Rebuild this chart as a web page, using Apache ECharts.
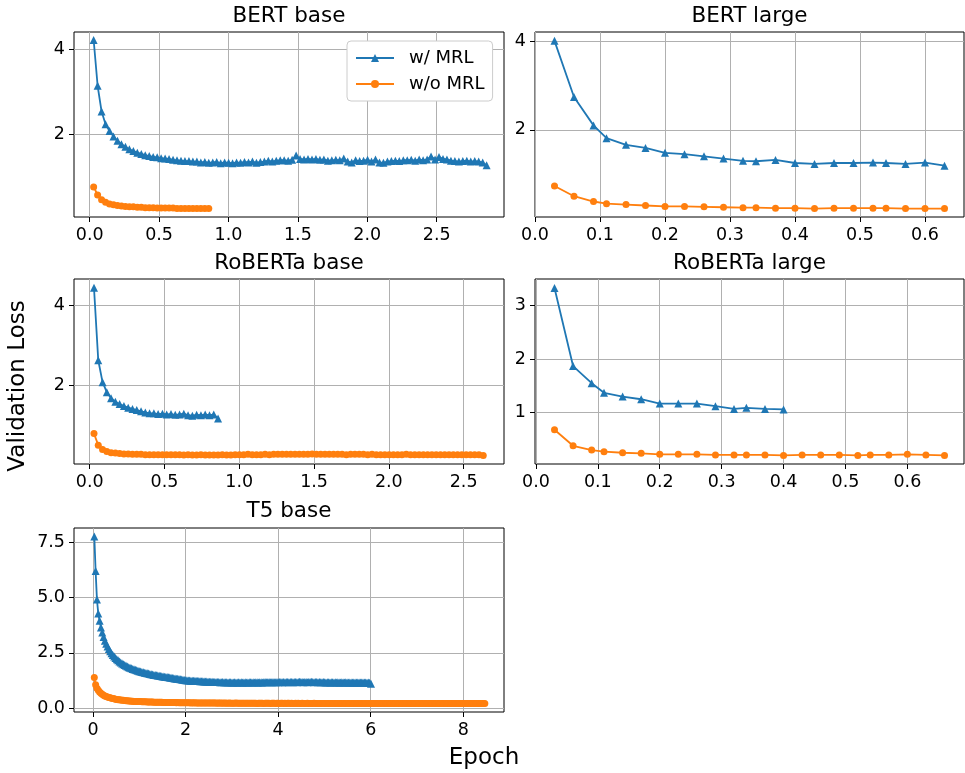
<!DOCTYPE html>
<html><head><meta charset="utf-8">
<script src="https://cdn.jsdelivr.net/npm/echarts@6.0.0/dist/echarts.min.js"></script>
<style>html,body{margin:0;padding:0;background:#fff}#chart{width:965px;height:773px}</style>
</head><body><div id="chart"></div>
<script>
// ---------------- DATA ----------------
const panelTitles = ['BERT base', 'BERT large', 'RoBERTa base', 'RoBERTa large', 'T5 base'];
const seriesNames = ['w/ MRL', 'w/o MRL'];
const xAxisLabel = 'Epoch';
const yAxisLabel = 'Validation Loss';
// evaluation interval (epochs between evaluations) for the densely logged runs
const evalStep = 0.0286;

// BERT base
const bertBaseWith = [
4.22,3.14,2.53,2.23,2.07,1.94,1.84,1.76,1.70,1.64,
1.60,1.56,1.53,1.50,1.48,1.46,1.45,1.43,1.42,1.41,
1.39,1.38,1.37,1.36,1.36,1.35,1.35,1.33,1.34,1.32,
1.33,1.34,1.31,1.33,1.32,1.31,1.33,1.32,1.34,1.33,
1.35,1.32,1.34,1.35,1.37,1.35,1.37,1.38,1.38,1.37,
1.39,1.49,1.41,1.40,1.41,1.40,1.41,1.39,1.40,1.37,
1.38,1.39,1.38,1.42,1.35,1.33,1.38,1.36,1.37,1.39,
1.35,1.40,1.33,1.32,1.35,1.36,1.37,1.36,1.38,1.38,
1.39,1.37,1.40,1.38,1.40,1.47,1.40,1.46,1.41,1.40,
1.37,1.36,1.35,1.36,1.37,1.35,1.36,1.35,1.33,1.26];
const bertBaseWithout = [
0.75,0.56,0.45,0.39,0.35,0.33,0.31,0.30,0.29,0.28,
0.28,0.27,0.27,0.26,0.26,0.26,0.25,0.25,0.25,0.25,
0.25,0.24,0.24,0.24,0.24,0.24,0.24,0.24,0.24,0.24];

// BERT large
const bertLargeEpochs = [0.03,0.06,0.09,0.11,0.14,0.17,0.20,0.23,0.26,0.29,0.32,0.34,0.37,0.40,0.43,0.46,0.49,0.52,0.54,0.57,0.60,0.63];
const bertLargeWith = [4.01,2.74,2.10,1.81,1.66,1.59,1.48,1.45,1.40,1.35,1.30,1.29,1.32,1.25,1.23,1.25,1.25,1.26,1.25,1.23,1.26,1.19];
const bertLargeWithout = [0.73,0.50,0.38,0.33,0.31,0.29,0.27,0.27,0.26,0.25,0.24,0.24,0.23,0.23,0.22,0.23,0.23,0.23,0.23,0.22,0.22,0.22];

// RoBERTa base
const robertaBaseWith = [
4.44,2.62,2.07,1.82,1.67,1.58,1.52,1.47,1.43,1.40,
1.37,1.34,1.31,1.29,1.29,1.27,1.28,1.26,1.27,1.25,
1.26,1.28,1.24,1.23,1.25,1.24,1.26,1.24,1.26,1.16];
const robertaBaseWithout = [
0.78,0.49,0.38,0.33,0.30,0.29,0.28,0.27,0.27,0.26,
0.26,0.26,0.25,0.25,0.25,0.25,0.25,0.25,0.25,0.25,
0.25,0.24,0.25,0.24,0.24,0.25,0.24,0.24,0.24,0.24,
0.25,0.24,0.24,0.25,0.25,0.25,0.26,0.25,0.25,0.25,
0.26,0.25,0.26,0.26,0.26,0.26,0.26,0.26,0.26,0.26,
0.26,0.27,0.26,0.26,0.26,0.26,0.26,0.26,0.26,0.25,
0.26,0.26,0.26,0.26,0.25,0.26,0.25,0.25,0.25,0.25,
0.25,0.25,0.25,0.26,0.25,0.25,0.25,0.25,0.25,0.25,
0.25,0.25,0.25,0.25,0.25,0.25,0.25,0.25,0.25,0.25,
0.25,0.23];

// RoBERTa large
const robertaLargeEpochs = [0.03,0.06,0.09,0.11,0.14,0.17,0.20,0.23,0.26,0.29,0.32,0.34,0.37,0.40,0.43,0.46,0.49,0.52,0.54,0.57,0.60,0.63,0.66];
const robertaLargeWith = [3.33,1.87,1.55,1.37,1.30,1.25,1.17,1.17,1.17,1.12,1.07,1.09,1.07,1.06];
const robertaLargeWithout = [0.68,0.38,0.30,0.27,0.25,0.24,0.22,0.22,0.22,0.21,0.21,0.21,0.21,0.20,0.21,0.21,0.21,0.20,0.21,0.21,0.22,0.21,0.20];

// T5 base
const t5BaseWith = [
7.77,6.20,4.91,4.28,3.95,3.65,3.42,3.22,3.05,2.91,
2.78,2.67,2.57,2.48,2.40,2.33,2.27,2.21,2.16,2.11,
2.06,2.02,1.98,1.95,1.91,1.88,1.85,1.82,1.80,1.77,
1.75,1.73,1.71,1.69,1.67,1.65,1.63,1.62,1.60,1.58,
1.57,1.56,1.54,1.53,1.52,1.50,1.49,1.48,1.47,1.46,
1.45,1.44,1.43,1.42,1.41,1.40,1.39,1.38,1.37,1.36,
1.35,1.34,1.33,1.32,1.31,1.30,1.29,1.28,1.27,1.26,
1.26,1.25,1.25,1.24,1.24,1.23,1.23,1.22,1.22,1.22,
1.21,1.21,1.21,1.20,1.20,1.20,1.19,1.19,1.19,1.19,
1.18,1.18,1.18,1.18,1.18,1.17,1.17,1.18,1.17,1.17,
1.17,1.16,1.17,1.17,1.16,1.16,1.17,1.16,1.16,1.17,
1.16,1.17,1.16,1.16,1.17,1.16,1.16,1.17,1.17,1.16,
1.17,1.16,1.17,1.17,1.16,1.17,1.17,1.16,1.17,1.18,
1.17,1.17,1.18,1.17,1.17,1.18,1.17,1.17,1.18,1.17,
1.18,1.18,1.17,1.18,1.17,1.18,1.18,1.17,1.18,1.18,
1.17,1.18,1.18,1.17,1.18,1.19,1.18,1.18,1.17,1.18,
1.18,1.17,1.18,1.18,1.19,1.18,1.17,1.18,1.18,1.17,
1.18,1.17,1.17,1.18,1.17,1.16,1.17,1.17,1.16,1.17,
1.17,1.16,1.17,1.16,1.17,1.16,1.16,1.17,1.16,1.16,
1.17,1.16,1.16,1.15,1.16,1.16,1.15,1.16,1.15,1.16,
1.15,1.16,1.15,1.15,1.16,1.15,1.14,1.15,1.14,1.10];
const t5BaseWithout = [
1.38,1.05,0.90,0.80,0.73,0.67,0.62,0.58,0.55,0.52,0.50,0.48,0.46,0.44,0.43,0.42,0.40,0.39,0.38,0.37,
0.36,0.35,0.35,0.34,0.33,0.33,0.32,0.32,0.31,0.31,0.30,0.30,0.30,0.29,0.29,0.29,0.28,0.28,0.28,0.28,
0.27,0.27,0.27,0.27,0.27,0.26,0.26,0.26,0.26,0.26,0.26,0.26,0.25,0.25,0.25,0.25,0.25,0.25,0.25,0.25,
0.25,0.25,0.24,0.25,0.24,0.24,0.24,0.24,0.24,0.24,0.24,0.24,0.24,0.23,0.24,0.23,0.24,0.23,0.23,0.23,
0.23,0.23,0.23,0.23,0.23,0.23,0.23,0.23,0.23,0.23,0.23,0.23,0.23,0.22,0.23,0.23,0.22,0.23,0.22,0.23,
0.22,0.22,0.23,0.22,0.22,0.22,0.22,0.23,0.22,0.22,0.22,0.22,0.22,0.22,0.22,0.22,0.22,0.22,0.22,0.22,
0.22,0.22,0.22,0.21,0.22,0.22,0.22,0.22,0.21,0.22,0.22,0.22,0.22,0.21,0.22,0.22,0.22,0.21,0.22,0.22,
0.21,0.22,0.22,0.21,0.22,0.21,0.22,0.22,0.21,0.22,0.21,0.21,0.22,0.21,0.22,0.21,0.21,0.22,0.21,0.21,
0.21,0.22,0.21,0.21,0.21,0.21,0.22,0.21,0.21,0.21,0.21,0.21,0.21,0.21,0.21,0.21,0.21,0.21,0.21,0.21,
0.21,0.21,0.21,0.21,0.21,0.21,0.21,0.21,0.21,0.21,0.21,0.21,0.21,0.21,0.21,0.21,0.21,0.21,0.21,0.21,
0.21,0.21,0.21,0.20,0.21,0.21,0.21,0.21,0.21,0.20,0.21,0.21,0.21,0.21,0.20,0.21,0.21,0.21,0.20,0.21,
0.21,0.21,0.20,0.21,0.21,0.20,0.21,0.21,0.21,0.20,0.21,0.20,0.21,0.21,0.20,0.21,0.20,0.21,0.20,0.21,
0.20,0.21,0.20,0.21,0.20,0.20,0.21,0.20,0.21,0.20,0.20,0.21,0.20,0.20,0.21,0.20,0.20,0.20,0.21,0.20,
0.20,0.20,0.20,0.21,0.20,0.20,0.20,0.20,0.20,0.21,0.20,0.20,0.20,0.20,0.20,0.20,0.20,0.20,0.20,0.20,
0.20,0.20,0.20,0.20,0.20,0.20,0.20,0.20,0.20,0.20,0.20,0.20,0.20,0.20,0.20,0.20];

// axis extents and tick labels
const bertBaseXRange = [-0.113, 2.985], bertBaseYRange = [0.04, 4.41];
const bertLargeXRange = [0.0, 0.66], bertLargeYRange = [0.03, 4.21];
const robertaBaseXRange = [-0.105, 2.77], robertaBaseYRange = [0.017, 4.66];
const robertaLargeXRange = [-0.0015, 0.6915], robertaLargeYRange = [0.04, 3.497];
const t5BaseXRange = [-0.41, 8.88], t5BaseYRange = [-0.18, 8.15];

const bertBaseXTicks = [0.0, 0.5, 1.0, 1.5, 2.0, 2.5], bertBaseYTicks = [2, 4];
const bertLargeXTicks = [0.0, 0.1, 0.2, 0.3, 0.4, 0.5, 0.6], bertLargeYTicks = [2, 4];
const robertaBaseXTicks = [0.0, 0.5, 1.0, 1.5, 2.0, 2.5], robertaBaseYTicks = [2, 4];
const robertaLargeXTicks = [0.0, 0.1, 0.2, 0.3, 0.4, 0.5, 0.6], robertaLargeYTicks = [1, 2, 3];
const t5BaseXTicks = [0, 2, 4, 6, 8], t5BaseYTicks = [0.0, 2.5, 5.0, 7.5];

// ---------------- BUILD ----------------
function stepEpochs(n) { const a = []; for (let i = 1; i <= n; i++) a.push(+(i * evalStep).toFixed(4)); return a; }
function pairs(xs, ys) { return ys.map((y, i) => [xs[i], y]); }

const panels = [
  { title: panelTitles[0], xw: stepEpochs(bertBaseWith.length), yw: bertBaseWith, xo: stepEpochs(bertBaseWithout.length), yo: bertBaseWithout,
    xr: bertBaseXRange, yr: bertBaseYRange, xt: bertBaseXTicks, yt: bertBaseYTicks, xd: 1, yd: 0 },
  { title: panelTitles[1], xw: bertLargeEpochs, yw: bertLargeWith, xo: bertLargeEpochs, yo: bertLargeWithout,
    xr: bertLargeXRange, yr: bertLargeYRange, xt: bertLargeXTicks, yt: bertLargeYTicks, xd: 1, yd: 0 },
  { title: panelTitles[2], xw: stepEpochs(robertaBaseWith.length), yw: robertaBaseWith, xo: stepEpochs(robertaBaseWithout.length), yo: robertaBaseWithout,
    xr: robertaBaseXRange, yr: robertaBaseYRange, xt: robertaBaseXTicks, yt: robertaBaseYTicks, xd: 1, yd: 0 },
  { title: panelTitles[3], xw: robertaLargeEpochs, yw: robertaLargeWith, xo: robertaLargeEpochs, yo: robertaLargeWithout,
    xr: robertaLargeXRange, yr: robertaLargeYRange, xt: robertaLargeXTicks, yt: robertaLargeYTicks, xd: 1, yd: 0 },
  { title: panelTitles[4], xw: stepEpochs(t5BaseWith.length), yw: t5BaseWith, xo: stepEpochs(t5BaseWithout.length), yo: t5BaseWithout,
    xr: t5BaseXRange, yr: t5BaseYRange, xt: t5BaseXTicks, yt: t5BaseYTicks, xd: 0, yd: 1 }
];

const FONT = 'DejaVu Sans';
const BLUE = '#1f77b4', ORANGE = '#ff7f0e';
const layout = [
  { left: 74, top: 32, width: 430, height: 185, titleTop: 5 },
  { left: 535, top: 32, width: 429, height: 185, titleTop: 5 },
  { left: 74, top: 279, width: 430, height: 185, titleTop: 252 },
  { left: 535, top: 279, width: 429, height: 185, titleTop: 252 },
  { left: 74, top: 528, width: 430, height: 184, titleTop: 500 }
];

const grids = [], xAxes = [], yAxes = [], series = [], titles = [];
panels.forEach((p, i) => {
  const L = layout[i];
  grids.push({ left: L.left, top: L.top, width: L.width, height: L.height, show: true,
    borderColor: '#000', borderWidth: 1, backgroundColor: 'transparent', containLabel: false, outerBoundsMode: 'none' });
  const tickCommon = {
    axisLine: { show: false, onZero: false },
    axisTick: { show: true, inside: false, length: 5, lineStyle: { color: '#000', width: 1 } },
    splitLine: { show: true, lineStyle: { color: '#b0b0b0', width: 1 } }
  };
  xAxes.push(Object.assign({ type: 'value', gridIndex: i, min: p.xr[0], max: p.xr[1] }, tickCommon, {
    axisTick: Object.assign({}, tickCommon.axisTick, { customValues: p.xt }),
    axisLabel: { customValues: p.xt, margin: 9, color: '#000', fontFamily: FONT, fontSize: 17.5,
      formatter: v => Number(v).toFixed(p.xd) }
  }));
  yAxes.push(Object.assign({ type: 'value', gridIndex: i, min: p.yr[0], max: p.yr[1] }, tickCommon, {
    axisTick: Object.assign({}, tickCommon.axisTick, { customValues: p.yt }),
    axisLabel: { customValues: p.yt, margin: 9, color: '#000', fontFamily: FONT, fontSize: 17.5,
      formatter: v => Number(v).toFixed(p.yd) }
  }));
  const common = { type: 'line', xAxisIndex: i, yAxisIndex: i, showSymbol: true, showAllSymbol: true,
    silent: true, animation: false, clip: true, emphasis: { disabled: true } };
  series.push(Object.assign({}, common, { name: seriesNames[0], data: pairs(p.xw, p.yw), symbol: 'triangle', symbolSize: 8,
    itemStyle: { color: BLUE }, lineStyle: { color: BLUE, width: 1.8 } }));
  series.push(Object.assign({}, common, { name: seriesNames[1], data: pairs(p.xo, p.yo), symbol: 'circle', symbolSize: 7,
    itemStyle: { color: ORANGE }, lineStyle: { color: ORANGE, width: 1.8 } }));
  titles.push({ text: p.title, left: L.left + L.width / 2, top: L.titleTop, textAlign: 'center', padding: 0,
    textStyle: { fontFamily: FONT, fontSize: 21.5, fontWeight: 'normal', color: '#000' } });
});

const chart = echarts.init(document.getElementById('chart'), null, { renderer: 'canvas' });
chart.setOption({
  backgroundColor: '#fff',
  animation: false,
  title: titles,
  grid: grids,
  xAxis: xAxes,
  yAxis: yAxes,
  series: series,
  legend: {
    data: seriesNames, orient: 'vertical', left: 347, top: 41, padding: [8, 8, 8, 8],
    itemWidth: 38, itemHeight: 10, itemGap: 8, selectedMode: false,
    backgroundColor: '#fff', borderColor: '#cccccc', borderWidth: 1, borderRadius: 4,
    textStyle: { fontFamily: FONT, fontSize: 18, color: '#000', padding: [0, 0, 0, 10] }
  },
  graphic: [
    { type: 'text', x: 484, y: 758, silent: true,
      style: { text: xAxisLabel, font: '23px "DejaVu Sans"', fill: '#000', textAlign: 'center', textVerticalAlign: 'middle' } },
    { type: 'text', x: 18, y: 386, rotation: Math.PI / 2, silent: true,
      style: { text: yAxisLabel, font: '23px "DejaVu Sans"', fill: '#000', textAlign: 'center', textVerticalAlign: 'middle' } }
  ]
});
</script>
</body></html>
